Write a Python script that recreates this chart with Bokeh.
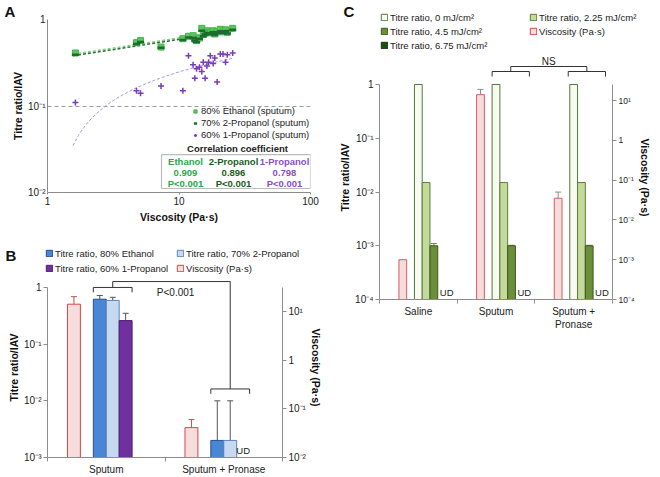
import numpy as np
from bokeh.plotting import figure
from bokeh.layouts import row, column
from bokeh.models import (Range1d, LogScale, LogAxis, FixedTicker, CustomJSTickFormatter,
                          Whisker, TeeHead, Label, Legend, LegendItem, Arrow,
                          ColumnDataSource, BoxAnnotation, Title)
from bokeh.embed import file_html
from bokeh.resources import INLINE

FONT = "Liberation Sans"

# ---------------- Panel A data ----------------
visc_A = [1.63, 4.75, 5.1, 7.3, 10.7, 11.8, 12.8, 13.2, 13.6, 14.3, 14.9, 15.3,
          15.8, 16.3, 16.8, 17.3, 18.2, 18.7, 19.5, 20.6, 21.6, 22.6, 23.3, 25.6]
ethanol_A = [0.41, 0.54, 0.57, 0.48, 0.60, 0.64, 0.65, 0.59, 0.57, 0.61, 0.79, 0.67,
             0.70, 0.74, 0.70, 0.71, 0.74, 0.68, 0.72, 0.77, 0.72, 0.76, 0.71, 0.79]
propanol2_A = [0.39, 0.52, 0.55, 0.47, 0.58, 0.62, 0.61, 0.57, 0.55, 0.60, 0.74, 0.64,
               0.67, 0.70, 0.68, 0.69, 0.71, 0.66, 0.70, 0.73, 0.70, 0.73, 0.69, 0.76]
propanol1_A = [0.11, 0.15, 0.14, 0.17, 0.15, 0.38, 0.30, 0.21, 0.27, 0.28, 0.25, 0.32,
               0.21, 0.29, 0.32, 0.38, 0.31, 0.36, 0.19, 0.40, 0.40, 0.32, 0.39, 0.41]
legend_A = ["80% Ethanol (sputum)", "70% 2-Propanol (sputum)", "60% 1-Propanol (sputum)"]
corr_names = ["Ethanol", "2-Propanol", "1-Propanol"]
corr_r = ["0.909", "0.896", "0.798"]
corr_p = ["P<0.001", "P<0.001", "P<0.001"]

# ---------------- Panel B data ----------------
cats_B = ["Sputum", "Sputum + Pronase"]
eth_B = [0.62, 0.002]
eth_B_sd = [0.10, 0.008]
prop2_B = [0.59, 0.002]
prop2_B_sd = [0.08, 0.008]
prop1_B = [0.26, None]
prop1_B_sd = [0.09, None]
visc_B = [14.0, 0.041]
visc_B_sd = [6.0, 0.019]
legend_B = ["Titre ratio, 80% Ethanol", "Titre ratio, 70% 2-Propanol",
            "Titre ratio, 60% 1-Propanol", "Viscosity (Pa·s)"]

# ---------------- Panel C data ----------------
cats_C = ["Saline", "Sputum", "Sputum +\nPronase"]
t0_C = [1.0, 1.0, 1.0]
t225_C = [0.015, 0.015, 0.015]
t45_C = [0.001, 0.001, 0.001]
t45_C_sd = [0.0001, 0.00002, 0.00002]
t675_C = [None, None, None]
visc_C = [0.001, 14.0, 0.035]
visc_C_sd = [0.0, 5.0, 0.015]
legend_C = ["Titre ratio, 0 mJ/cm²", "Titre ratio, 2.25 mJ/cm²", "Titre ratio, 4.5 mJ/cm²",
            "Viscosity (Pa·s)", "Titre ratio, 6.75 mJ/cm²"]

# ---------------- styles ----------------
PINK = ("#f7dcdc", "#d9444c")
ETH = ("#4a86d6", "#24508f")
PROP2 = ("#c6d9f1", "#5b84bb")
PROP1 = ("#7030a0", "#4b1f70")
UV0 = ("#f9fbf2", "#4f7a3a")
UV225 = ("#c4da9c", "#5a7f34")
UV45 = ("#6b8e3a", "#3d5a1e")
UV675 = ("#1f4d17", "#163a10")

SUP = CustomJSTickFormatter(code="""
const e = Math.round(Math.log10(tick));
if (e === 0) return "1";
const m = {"-":"⁻","0":"⁰","1":"¹","2":"²","3":"³","4":"⁴","5":"⁵","6":"⁶","7":"⁷","8":"⁸","9":"⁹"};
return "10" + String(e).split("").map(c => m[c]).join("");
""")
PLAIN = CustomJSTickFormatter(code="return String(Math.round(tick));")


def style_axis(ax, size="10px", label_size="10.5px"):
    ax.axis_line_color = "#8c8c8c"
    ax.major_tick_line_color = "#8c8c8c"
    ax.minor_tick_line_color = None
    ax.major_tick_in = 0
    ax.major_tick_out = 4
    ax.major_label_text_font = FONT
    ax.major_label_text_font_size = size
    ax.major_label_text_color = "#222222"
    ax.major_label_standoff = 2
    ax.axis_label_text_font = FONT
    ax.axis_label_text_font_style = "bold"
    ax.axis_label_text_font_size = label_size
    ax.axis_label_text_color = "#111111"
    ax.axis_label_standoff = 1


def label(p, x, y, text, size="9.5px", color="#222222", bold=False, align="left",
          baseline="middle", units="screen", x_offset=0, y_offset=0):
    p.add_layout(Label(x=x, y=y, x_units=units, y_units=units, text=text,
                       text_font=FONT, text_font_size=size, text_color=color,
                       text_font_style="bold" if bold else "normal",
                       text_align=align, text_baseline=baseline,
                       x_offset=x_offset, y_offset=y_offset))


def frame_legend(p, items, sx, sy, lh):
    p.add_layout(Legend(items=[LegendItem(label=t, renderers=[r]) for t, r in items],
                        location=(sx, sy), orientation="vertical", padding=0, spacing=0,
                        margin=0, border_line_color=None, background_fill_alpha=0,
                        label_text_font=FONT, label_text_font_size="9.5px",
                        label_text_color="#222222", label_height=lh, glyph_height=8,
                        glyph_width=8, label_standoff=2))


def helper(width, height):
    h = figure(width=width, height=height, x_range=Range1d(0, width),
               y_range=Range1d(0, height), x_axis_location=None, y_axis_location=None,
               min_border_left=0, min_border_right=0, min_border_top=0,
               min_border_bottom=0, output_backend="svg", toolbar_location=None,
               outline_line_color=None)
    h.grid.visible = False
    return h


def swatch(h, style):
    # legend-only renderer (no visible mark): a single NaN bar carrying the style
    return h.vbar(x=[np.nan], top=[np.nan], width=1, fill_color=style[0],
                  line_color=style[1])


def bars(p, vals, offset, width, style, bottom, rng="default", sd=None,
         err_color="#555555"):
    xs = [i + 0.5 + offset for i in range(len(vals))]
    tops = [np.nan if v is None else v for v in vals]
    r = p.vbar(x="x", top="top", bottom=bottom, width=width,
               source=ColumnDataSource(dict(x=xs, top=tops)),
               fill_color=style[0], line_color=style[1], line_width=1, y_range_name=rng)
    if sd is not None:
        ex, el, eu = [], [], []
        for x, v, s in zip(xs, vals, sd):
            if v is not None and s:
                ex.append(x); el.append(v); eu.append(v + s)
        if ex:
            p.add_layout(Whisker(source=ColumnDataSource(dict(x=ex, lo=el, up=eu)),
                                 base="x", lower="lo", upper="up", lower_head=None,
                                 upper_head=TeeHead(size=6, line_color=err_color, line_width=1),
                                 line_color=err_color, line_width=1, y_range_name=rng))
    return r


def bracket_lines(p, segs, color="#333333"):
    x0, y0, x1, y1 = zip(*segs)
    p.add_layout(Arrow(end=None, source=ColumnDataSource(dict(x0=x0, y0=y0, x1=x1, y1=y1)),
                       x_start="x0", y_start="y0", x_end="x1", y_end="y1",
                       line_color=color, line_width=1))


def log_span(top_px, bot_px, ref_val, ref_px, ppd):
    """value range of a log axis whose frame spans top_px..bot_px (page pixels)"""
    l0 = np.log10(ref_val)
    return 10 ** (l0 + (ref_px - bot_px) / ppd), 10 ** (l0 + (ref_px - top_px) / ppd)


def x_axis_categories(p, cats):
    p.xaxis.ticker = FixedTicker(ticks=[i + 0.5 for i in range(len(cats))],
                                 minor_ticks=list(range(len(cats) + 1)))
    p.xaxis.major_label_overrides = {i + 0.5: c for i, c in enumerate(cats)}
    style_axis(p.xaxis)
    p.xaxis.major_tick_out = 0
    p.xaxis.minor_tick_line_color = "#8c8c8c"
    p.xaxis.minor_tick_out = 4
    p.xaxis.minor_tick_in = 0


# =============== Panel A ===============  (page 0..330 x 0..225)
A_L, A_R, A_T, A_B = 47, 310, 18, 192
pA = figure(width=330, height=225, x_axis_type="log", y_axis_type="log",
            x_range=Range1d(1, 100), y_range=Range1d(0.01, 1),
            min_border_left=A_L, min_border_right=330 - A_R,
            min_border_top=A_T, min_border_bottom=225 - A_B,
            output_backend="svg", toolbar_location=None, outline_line_color=None)
pA.title = Title(text="A", align="left", offset=4 - A_L, standoff=0, text_font=FONT,
                 text_font_size="15px", text_font_style="bold", text_color="#111111")
pA.xaxis.ticker = FixedTicker(ticks=[1, 10, 100], minor_ticks=[])
pA.yaxis.ticker = FixedTicker(ticks=[0.01, 0.1, 1], minor_ticks=[])
pA.xaxis.formatter = PLAIN
pA.yaxis.formatter = SUP
style_axis(pA.xaxis)
style_axis(pA.yaxis)
pA.yaxis.major_tick_out = 0
pA.xaxis.major_tick_out = 2
pA.xaxis.axis_label_standoff = 3
pA.xaxis.axis_label = "Viscosity (Pa·s)"
pA.yaxis.axis_label = "Titre ratio/IAV"
pA.xgrid.visible = False
pA.ygrid.ticker = FixedTicker(ticks=[0.1, 1], minor_ticks=[])
pA.ygrid.grid_line_color = "#9a9a9a"
pA.ygrid.grid_line_dash = "4 3"

vA = np.array(visc_A)
xs_fit = np.logspace(np.log10(vA.min() * 0.96), np.log10(vA.max()), 60)
for vals, col in [(ethanol_A, "#7fd37f"), (propanol2_A, "#2f6f3c")]:
    b, a = np.polyfit(np.log10(vA), np.log10(vals), 1)
    pA.line(xs_fit, 10 ** (a + b * np.log10(xs_fit)), line_color=col, line_width=1.5,
            line_dash="3 2")
b1, a1 = np.polyfit(np.log(vA), propanol1_A, 1)
pA.line(xs_fit, a1 + b1 * np.log(xs_fit), line_color="#a98de6", line_width=1,
        line_dash="3 2")

sA = ColumnDataSource(dict(v=visc_A, e=ethanol_A, p2=propanol2_A, p1=propanol1_A))
rE = pA.scatter("v", "e", source=sA, marker="square", size=6, fill_color="#5cc75c",
                line_color="#45b34c")
rP2 = pA.scatter("v", "p2", source=sA, marker="dash", size=7, line_color="#1d6b31",
                 line_width=2.5)
rP1 = pA.scatter("v", "p1", source=sA, marker="cross", size=6, line_color="#7a3cb8",
                 line_width=1.5)

frame_legend(pA, list(zip(legend_A, [rE, rP2, rP1])), 191 - A_L, A_B - 140.5, 12)


def a_data(px, py):
    return (10 ** (2 * (px - A_L) / (A_R - A_L)), 10 ** (-2 * (py - A_T) / (A_B - A_T)))


bl, bb = a_data(161, 188)
br, bt = a_data(310, 154)
pA.add_layout(BoxAnnotation(left=bl, right=br, bottom=bb, top=bt, fill_alpha=0,
                            line_color="#222222", line_width=1.2))
label(pA, 237 - A_L, A_B - 148, "Correlation coefficient", bold=True, align="center")
corr_cols = ["#2aa84a", "#1b5e20", "#8a4fc4"]
for cx, nm, rv, pv, c in zip([185, 233, 284], corr_names, corr_r, corr_p, corr_cols):
    label(pA, cx - A_L, A_B - 161, nm, bold=True, align="center", color=c)
    label(pA, cx - A_L, A_B - 172, rv, bold=True, align="center", color=c)
    label(pA, cx - A_L, A_B - 183, pv, bold=True, align="center", color=c)

# =============== Panel B header ===============  (page 0..330 x 225..277)
HB_H = 52
hB = helper(330, HB_H)
label(hB, 5, HB_H - 21, "B", bold=True, size="15px", baseline="top", color="#111111")
swB = [swatch(hB, s) for s in (ETH, PROP2, PROP1, PINK)]
frame_legend(hB, [(legend_B[0], swB[0]), (legend_B[2], swB[2])], 45, HB_H - 50.5, 15)
frame_legend(hB, [(legend_B[1], swB[1]), (legend_B[3], swB[3])], 176, HB_H - 50.5, 15)

# =============== Panel B ===============  (page 0..330 x 277..477)
B_TOP = 277
B_L, B_R, B_T, B_B = 47, 282, 277, 458
pB = figure(width=330, height=477 - B_TOP, y_axis_type="log",
            x_range=Range1d(0, len(cats_B)),
            y_range=Range1d(*log_span(B_T, B_B, 1.0, 287, 57)),
            min_border_left=B_L, min_border_right=330 - B_R,
            min_border_top=B_T - B_TOP, min_border_bottom=477 - B_B,
            output_backend="svg", toolbar_location=None, outline_line_color=None)
pB.extra_y_ranges = {"visc": Range1d(*log_span(B_T, B_B, 0.01, 458, 49))}
pB.extra_y_scales = {"visc": LogScale()}
axB = LogAxis(y_range_name="visc", axis_label="Viscosity (Pa·s)")
pB.add_layout(axB, "right")
axL = pB.yaxis[0]
axL.ticker = FixedTicker(ticks=[0.001, 0.01, 0.1, 1], minor_ticks=[])
axL.bounds = log_span(287, B_B, 1.0, 287, 57)
axB.ticker = FixedTicker(ticks=[0.01, 0.1, 1, 10], minor_ticks=[])
axB.bounds = log_span(287, B_B, 0.01, 458, 49)
for ax in [axL, axB]:
    ax.formatter = SUP
    style_axis(ax)
axL.axis_label = "Titre ratio/IAV"
x_axis_categories(pB, cats_B)
pB.grid.visible = False

wB = 0.11
bars(pB, visc_B, -0.275, wB, PINK, 0.01, "visc", visc_B_sd, "#c0504d")
bars(pB, eth_B, -0.055, wB, ETH, 0.001, sd=eth_B_sd)
bars(pB, prop2_B, 0.055, wB, PROP2, 0.001, sd=prop2_B_sd)
bars(pB, prop1_B, 0.165, wB, PROP1, 0.001, sd=prop1_B_sd)
for i, v in enumerate(prop1_B):
    if v is None:
        label(pB, i + 0.5 + 0.165, 0.001, "UD", units="data", align="center",
              baseline="bottom", y_offset=2)

up, tip = 1.27, 0.82
c1, c2 = 0.5 + 0.055, 1.5 + 0.055
lo2, tip2 = 0.0162, 0.0133
bracket_lines(pB, [(0.39, 1.0, 0.72, 1.0), (0.39, 1.0, 0.39, tip), (0.72, 1.0, 0.72, tip),
                   (c1, 1.0, c1, up), (c1, up, c2, up), (c2, up, c2, lo2),
                   (1.39, lo2, 1.72, lo2), (1.39, lo2, 1.39, tip2), (1.72, lo2, 1.72, tip2)])
label(pB, 1.09, 0.80, "P<0.001", units="data", align="center", size="10px")

# =============== Panel C header ===============  (page 330..660 x 0..55)
HC_H = 55
hC = helper(330, HC_H)
label(hC, 13, HC_H - 2, "C", bold=True, size="15px", baseline="top", color="#111111")
swC = [swatch(hC, s) for s in (UV0, UV225, UV45, PINK, UV675)]
frame_legend(hC, [(legend_C[0], swC[0]), (legend_C[2], swC[2]), (legend_C[4], swC[4])],
             50, HC_H - 52, 14)
frame_legend(hC, [(legend_C[1], swC[1]), (legend_C[3], swC[3])], 199, HC_H - 38, 14)

# =============== Panel C ===============  (page 330..660 x 55..477)
C_TOP = HC_H
C_L, C_R, C_T, C_B = 379, 612, 55, 299
pC = figure(width=330, height=477 - C_TOP, y_axis_type="log",
            x_range=Range1d(0, len(cats_C)),
            y_range=Range1d(*log_span(C_T, C_B, 1.0, 84, 53.75)),
            min_border_left=C_L - 330, min_border_right=660 - C_R,
            min_border_top=C_T - C_TOP, min_border_bottom=477 - C_B,
            output_backend="svg", toolbar_location=None, outline_line_color=None)
pC.extra_y_ranges = {"visc": Range1d(*log_span(C_T, C_B, 1e-4, 299, 39.8))}
pC.extra_y_scales = {"visc": LogScale()}
axCR = LogAxis(y_range_name="visc", axis_label="Viscosity (Pa·s)")
pC.add_layout(axCR, "right")
axCL = pC.yaxis[0]
axCL.ticker = FixedTicker(ticks=[1e-4, 1e-3, 1e-2, 1e-1, 1], minor_ticks=[])
axCL.bounds = log_span(84, C_B, 1.0, 84, 53.75)
axCR.ticker = FixedTicker(ticks=[1e-4, 1e-3, 1e-2, 1e-1, 1, 10], minor_ticks=[])
axCR.bounds = log_span(84, C_B, 1e-4, 299, 39.8)
style_axis(axCL)
style_axis(axCR, size="8.5px")
axCL.formatter = SUP
axCR.formatter = SUP
axCL.axis_label = "Titre ratio/IAV"
x_axis_categories(pC, cats_C)
pC.grid.visible = False

wC = 0.1
bars(pC, visc_C, -0.2, wC, ("#f7dcdc", "#d65c66"), 1e-4, "visc", visc_C_sd, "#8c8c8c")
bars(pC, t0_C, 0.0, wC, UV0, 1e-4)
bars(pC, t225_C, 0.1, wC, UV225, 1e-4)
bars(pC, t45_C, 0.2, wC, UV45, 1e-4, sd=t45_C_sd, err_color="#777777")
bars(pC, t675_C, 0.3, wC, UV675, 1e-4)
for i, v in enumerate(t675_C):
    if v is None:
        label(pC, i + 0.5 + 0.3, 1e-4, "UD", units="data", align="center",
              baseline="bottom", y_offset=2, x_offset=5)

ppd_C = 53.75
yc, yb, yt = [10 ** ((84 - px) / ppd_C) for px in (66, 71, 76)]
y_ns = 10 ** ((84 - 61) / ppd_C)
s0, s1, q0, q1 = 1.45, 1.93, 2.43, 2.91
m1, m2 = (s0 + s1) / 2, (q0 + q1) / 2
bracket_lines(pC, [(s0, yb, s1, yb), (s0, yb, s0, yt), (s1, yb, s1, yt), (m1, yb, m1, yc),
                   (q0, yb, q1, yb), (q0, yb, q0, yt), (q1, yb, q1, yt), (m2, yb, m2, yc),
                   (m1, yc, m2, yc)])
label(pC, (m1 + m2) / 2, y_ns, "NS", units="data", align="center", size="10px")

layout = row(column(row(pA), row(hB), row(pB)), column(row(hC), row(pC)))
open("out.html", "w").write(file_html(layout, INLINE))
